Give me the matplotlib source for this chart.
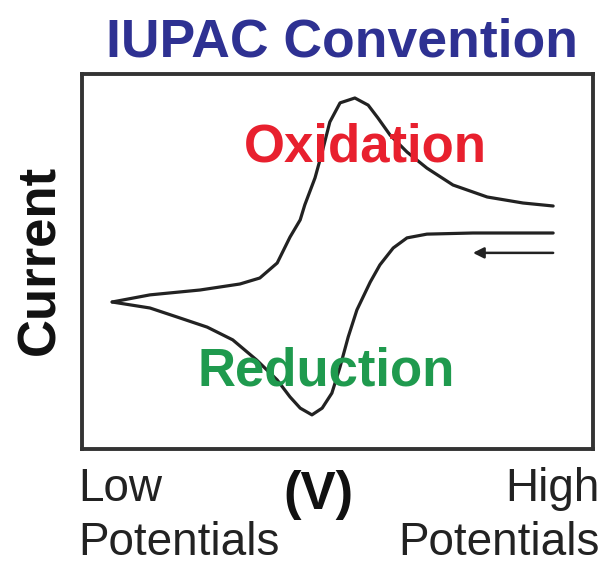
import matplotlib
matplotlib.use("Agg")
import matplotlib.pyplot as plt

plt.rcParams['font.family'] = ['Liberation Sans', 'DejaVu Sans']

# cathodic sweep: high -> low potential (normalised units)
sweep_down_E = [0.922, 0.765, 0.675, 0.636, 0.609, 0.583, 0.564, 0.538, 0.521, 0.505,
                0.489, 0.470, 0.450, 0.427, 0.407, 0.382, 0.342, 0.295, 0.245, 0.186,
                0.133, 0.059]
sweep_down_I = [0.576, 0.576, 0.573, 0.563, 0.536, 0.491, 0.445, 0.371, 0.299, 0.219,
                0.149, 0.109, 0.091, 0.109, 0.139, 0.184, 0.237, 0.291, 0.325, 0.352,
                0.376, 0.392]

# anodic sweep: low -> high potential
sweep_up_E = [0.059, 0.133, 0.231, 0.309, 0.348, 0.382, 0.407, 0.427, 0.436, 0.456,
              0.470, 0.485, 0.505, 0.534, 0.560, 0.579, 0.603, 0.636, 0.675, 0.726,
              0.793, 0.863, 0.922]
sweep_up_I = [0.392, 0.411, 0.424, 0.440, 0.456, 0.496, 0.565, 0.611, 0.651, 0.723,
              0.792, 0.872, 0.923, 0.936, 0.917, 0.883, 0.837, 0.792, 0.749, 0.704,
              0.672, 0.656, 0.648]

# scan direction arrow (start / end)
arrow_E = [0.922, 0.765]
arrow_I = 0.523

line_col = "#222222"

fig = plt.figure(figsize=(6.10, 5.67), dpi=100)
ax = fig.add_axes([82/610, 1 - 449/567, 511/610, 375/567])

for E, I in [(sweep_down_E, sweep_down_I), (sweep_up_E, sweep_up_I)]:
    ax.plot(E, I, color=line_col, lw=2.3, solid_capstyle='round', solid_joinstyle='round')
ax.annotate("", xy=(arrow_E[1], arrow_I), xytext=(arrow_E[0], arrow_I),
            arrowprops=dict(arrowstyle='-|>', color=line_col, lw=1.8,
                            mutation_scale=16, shrinkA=0, shrinkB=0))

ax.set_xlim(0, 1)
ax.set_ylim(0, 1)
ax.set_xticks([])
ax.set_yticks([])
for s in ax.spines.values():
    s.set_linewidth(2.8)
    s.set_color("#333333")

fig.text(342/610, 1 - 57/567, "IUPAC Convention", ha='center', va='baseline',
         fontsize=38.5, fontweight='bold', color="#2e3192")
fig.text(365/610, 1 - 162/567, "Oxidation", ha='center', va='baseline',
         fontsize=38, fontweight='bold', color="#e8202e")
fig.text(326/610, 1 - 385/567, "Reduction", ha='center', va='baseline',
         fontsize=38, fontweight='bold', color="#1f9a4e")
fig.text(40/610, 1 - 260/567, "Current", ha='center', va='center', rotation=90,
         fontsize=38, fontweight='bold', color="#111111")

fig.text(78/610, 1 - 501/567, "Low", ha='left', va='baseline', fontsize=33, color="#222222")
fig.text(78/610, 1 - 555/567, "Potentials", ha='left', va='baseline', fontsize=33, color="#222222")
fig.text(600/610, 1 - 501/567, "High", ha='right', va='baseline', fontsize=33, color="#222222")
fig.text(600/610, 1 - 555/567, "Potentials", ha='right', va='baseline', fontsize=33, color="#222222")
fig.text(318/610, 1 - 509/567, "(V)", ha='center', va='baseline', fontsize=38,
         fontweight='bold', color="#111111")

fig.savefig("out.png", dpi=100, facecolor='white')
